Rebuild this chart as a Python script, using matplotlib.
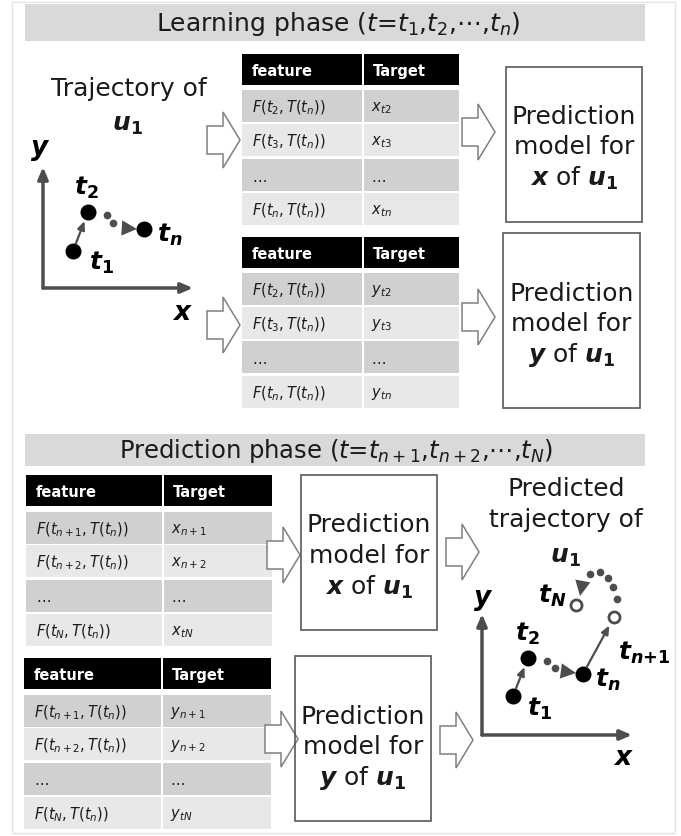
import matplotlib
matplotlib.use("Agg")
import matplotlib.pyplot as plt
from matplotlib.patches import Rectangle, Polygon

plt.rcParams['font.family'] = ['DejaVu Sans']
plt.rcParams['mathtext.fontset'] = 'dejavusans'

# ---------------- data (texts) ----------------
learn_title = r"Learning phase ($t$=$t_1$,$t_2$,$\cdots$,$t_n$)"
pred_title = r"Prediction phase ($t$=$t_{n+1}$,$t_{n+2}$,$\cdots$,$t_N$)"
table_header = ["feature", "Target"]
learn_features = [r"$F(t_2,T(t_n))$", r"$F(t_3,T(t_n))$", "…", r"$F(t_n,T(t_n))$"]
learn_x_targets = [r"$x_{t2}$", r"$x_{t3}$", "…", r"$x_{tn}$"]
learn_y_targets = [r"$y_{t2}$", r"$y_{t3}$", "…", r"$y_{tn}$"]
pred_features = [r"$F(t_{n+1},T(t_n))$", r"$F(t_{n+2},T(t_n))$", "…", r"$F(t_N,T(t_n))$"]
pred_x_targets = [r"$x_{n+1}$", r"$x_{n+2}$", "…", r"$x_{tN}$"]
pred_y_targets = [r"$y_{n+1}$", r"$y_{n+2}$", "…", r"$y_{tN}$"]
model_x_lines = ["Prediction", "model for", r"$\mathbfit{x}$ of $\mathbfit{u}_{\mathbf{1}}$"]
model_y_lines = ["Prediction", "model for", r"$\mathbfit{y}$ of $\mathbfit{u}_{\mathbf{1}}$"]

# trajectory points (in trajectory-axes units)
traj1_x = [30, 45, 101]
traj1_y = [37, 76, 59]
traj2_obs_x = [31, 46, 101]
traj2_obs_y = [39, 77, 61]
traj2_pred_x = [132, 94]   # t_{n+1}, t_N
traj2_pred_y = [118, 130]
traj2_arc_x = [135, 131, 126, 118, 108]
traj2_arc_y = [136, 148, 157, 163, 161]

W, H = 681, 837
fig = plt.figure(figsize=(W / 100, H / 100), dpi=100)
ax = fig.add_axes([0, 0, 1, 1])
ax.set_xlim(0, W)
ax.set_ylim(H, 0)
ax.axis('off')

# outer faint border
ax.add_patch(Rectangle((12, 3), 663, 831, fill=False, ec='#e4e4e4', lw=1))

# title bars
ax.add_patch(Rectangle((25, 5), 620, 37, fc='#d9d9d9', ec='none'))
ax.text(338, 24, learn_title, fontsize=18, ha='center', va='center', color='#1a1a1a')
ax.add_patch(Rectangle((25, 435), 620, 32, fc='#d9d9d9', ec='none'))
ax.text(336, 451, pred_title, fontsize=17.5, ha='center', va='center', color='#1a1a1a')

DARK = '#d0d0d0'
LIGHT = '#e8e8e8'


def draw_table(x0, xdiv, x1, y_head, row_tops, features, targets, row_h=32):
    ax.add_patch(Rectangle((x0, y_head), xdiv - x0 - 1, 31, fc='black', ec='none'))
    ax.add_patch(Rectangle((xdiv + 1, y_head), x1 - xdiv - 1, 31, fc='black', ec='none'))
    ax.text(x0 + 10, y_head + 21, table_header[0], color='white', fontsize=10.5,
            fontweight='bold', ha='left', va='baseline')
    ax.text(xdiv + 10, y_head + 21, table_header[1], color='white', fontsize=10.5,
            fontweight='bold', ha='left', va='baseline')
    for i, (yt, f, t) in enumerate(zip(row_tops, features, targets)):
        c = DARK if i % 2 == 0 else LIGHT
        ax.add_patch(Rectangle((x0, yt), xdiv - x0 - 1, row_h, fc=c, ec='none'))
        ax.add_patch(Rectangle((xdiv + 1, yt), x1 - xdiv - 1, row_h, fc=c, ec='none'))
        ax.text(x0 + 10, yt + row_h / 2 + 1, f, fontsize=10.5, ha='left', va='center', color='#1a1a1a')
        ax.text(xdiv + 8, yt + row_h / 2 + 1, t, fontsize=10.5, ha='left', va='center', color='#1a1a1a')


draw_table(242, 363, 459, 55, [91, 125, 160, 194], learn_features, learn_x_targets)
draw_table(242, 363, 459, 238, [274, 308, 342, 377], learn_features, learn_y_targets)
draw_table(26, 163, 272, 476, [513, 546, 581, 615], pred_features, pred_x_targets)
draw_table(24, 162, 271, 659, [696, 729, 764, 798], pred_features, pred_y_targets)


def block_arrow(x0, yc, w=33, sh=14, hh=28, hb=16):
    pts = [(x0, yc - sh), (x0 + hb, yc - sh), (x0 + hb, yc - hh), (x0 + w, yc),
           (x0 + hb, yc + hh), (x0 + hb, yc + sh), (x0, yc + sh)]
    ax.add_patch(Polygon(pts, closed=True, fc='white', ec='#808080', lw=1.1, joinstyle='miter'))


for (xa, ya) in [(207, 141), (207, 326), (462, 133), (462, 318),
                 (267, 556), (265, 740), (446, 553), (440, 741)]:
    block_arrow(xa, ya)


def model_box(x0, y0, x1, y1, lines, ys):
    ax.add_patch(Rectangle((x0, y0), x1 - x0, y1 - y0, fill=False, ec='#595959', lw=1.2))
    xc = (x0 + x1) / 2
    for s, yy in zip(lines, ys):
        ax.text(xc, yy, s, fontsize=18, ha='center', va='center', color='#1a1a1a')


model_box(506, 68, 642, 223, model_x_lines, [117, 147, 178])
model_box(503, 234, 640, 409, model_y_lines, [294, 324, 355])
model_box(301, 476, 437, 631, model_x_lines, [525, 556, 587])
model_box(295, 657, 431, 822, model_y_lines, [717, 747, 778])

# captions of trajectories
ax.text(129, 89, "Trajectory of", fontsize=18, ha='center', va='center', color='#1a1a1a')
ax.text(127, 125, r"$\mathbfit{u}_{\mathbf{1}}$", fontsize=18, ha='center', va='center', color='#1a1a1a')
ax.text(566, 489, "Predicted", fontsize=18, ha='center', va='center', color='#1a1a1a')
ax.text(566, 520, "trajectory of", fontsize=18, ha='center', va='center', color='#1a1a1a')
ax.text(565, 557, r"$\mathbfit{u}_{\mathbf{1}}$", fontsize=18, ha='center', va='center', color='#1a1a1a')

GREY = '#4d4d4d'


def traj_axes(ox, oy, w=200, h=200):
    a = fig.add_axes([ox / W, 1 - oy / H, w / W, h / H])
    a.set_xlim(0, w)
    a.set_ylim(0, h)
    a.axis('off')
    a.annotate("", xy=(150, 0), xytext=(0, 0),
               arrowprops=dict(arrowstyle='-|>,head_length=0.7,head_width=0.3', color=GREY, lw=2.5,
                               shrinkA=0, shrinkB=0))
    a.annotate("", xy=(0, 121), xytext=(0, 0),
               arrowprops=dict(arrowstyle='-|>,head_length=0.7,head_width=0.3', color=GREY, lw=2.5,
                               shrinkA=0, shrinkB=0))
    return a


def tlabel(a, x, y, sub, fs=18):
    a.text(x, y, r"$\mathbfit{t}_{" + sub + "}$", fontsize=fs, ha='center', va='center', color='black')


def dotted_arrow(a, xs, ys, head_xy, head_from):
    a.plot(xs, ys, ls='none', marker='o', ms=4.5, color=GREY)
    a.annotate("", xy=head_xy, xytext=head_from,
               arrowprops=dict(arrowstyle='-|>,head_length=1.1,head_width=0.55', color=GREY, lw=0,
                               shrinkA=0, shrinkB=0))


def solid_arrow(a, p0, p1):
    a.annotate("", xy=p1, xytext=p0,
               arrowprops=dict(arrowstyle='-|>,head_length=0.5,head_width=0.22', color=GREY, lw=1.6,
                               shrinkA=6, shrinkB=7))


# left trajectory (learning)
a1 = traj_axes(43, 289)
a1.text(-3, 139, r"$\mathbfit{y}$", fontsize=19, ha='center', va='center')
a1.text(139, -24, r"$\mathbfit{x}$", fontsize=19, ha='center', va='center')
solid_arrow(a1, (traj1_x[0], traj1_y[0]), (traj1_x[1], traj1_y[1]))
dotted_arrow(a1, [64, 70], [73, 65], (traj1_x[2] - 7, traj1_y[2]), (traj1_x[2] - 22, traj1_y[2] + 1))
a1.plot(traj1_x, traj1_y, ls='none', marker='o', ms=10.5, color='black')
tlabel(a1, 59, 26, r"\mathbf{1}")
tlabel(a1, 43, 101, r"\mathbf{2}")
tlabel(a1, 127, 54, r"\mathbfit{n}")

# right trajectory (prediction)
a2 = traj_axes(482, 736)
a2.text(1, 136, r"$\mathbfit{y}$", fontsize=19, ha='center', va='center')
a2.text(141, -22, r"$\mathbfit{x}$", fontsize=19, ha='center', va='center')
solid_arrow(a2, (traj2_obs_x[0], traj2_obs_y[0]), (traj2_obs_x[1], traj2_obs_y[1]))
dotted_arrow(a2, [65, 73], [74, 67], (traj2_obs_x[2] - 7, traj2_obs_y[2] + 1), (traj2_obs_x[2] - 22, traj2_obs_y[2] + 3))
solid_arrow(a2, (traj2_obs_x[2], traj2_obs_y[2]), (traj2_pred_x[0], traj2_pred_y[0]))
dotted_arrow(a2, traj2_arc_x, traj2_arc_y, (traj2_pred_x[1] + 4, traj2_pred_y[1] + 9),
             (traj2_pred_x[1] + 7, traj2_pred_y[1] + 25))
a2.plot(traj2_obs_x, traj2_obs_y, ls='none', marker='o', ms=10.5, color='black')
a2.plot(traj2_pred_x, traj2_pred_y, ls='none', marker='o', ms=8, mfc='white', mec=GREY, mew=2)
tlabel(a2, 58, 27, r"\mathbf{1}")
tlabel(a2, 45, 102, r"\mathbf{2}")
tlabel(a2, 126, 56, r"\mathbfit{n}")
tlabel(a2, 162, 83, r"\mathbfit{n}\mathbf{+1}")
tlabel(a2, 70, 140, r"\mathbfit{N}")

fig.savefig("out.png", dpi=100, facecolor='white')
